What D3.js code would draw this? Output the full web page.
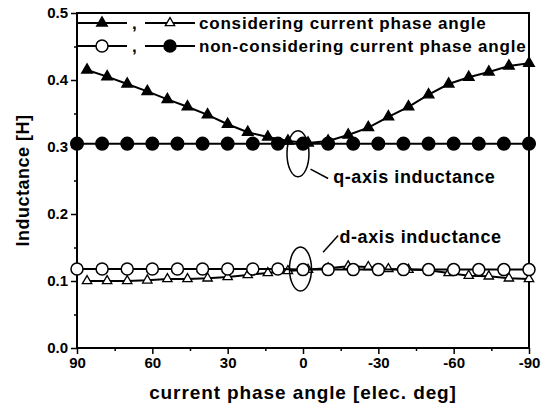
<!DOCTYPE html>
<html>
<head>
<meta charset="utf-8">
<script src="https://cdn.jsdelivr.net/npm/d3@7"></script>
<style>
  body { margin: 0; background: #fff; }
  text { font-family: "Liberation Sans", Arial, sans-serif; font-weight: bold; fill: #000; }
</style>
</head>
<body>
<div id="chart"></div>
<script>
// angles (elec. deg) for the 8 deg series (triangles) and 10 deg series (circles)
var triAngles = [86, 78, 70, 62, 54, 46, 38, 30, 22, 14, 6, -2, -10, -18, -26, -34, -42, -50, -58, -66, -74, -82, -90]
var circAngles = [90, 80, 70, 60, 50, 40, 30, 20, 10, 0, -10, -20, -30, -40, -50, -60, -70, -80, -90]

// considering current phase angle
var qConsider = [0.415, 0.405, 0.394, 0.383, 0.371, 0.360, 0.348, 0.334, 0.322, 0.315, 0.309, 0.306, 0.309,
                 0.318, 0.329, 0.345, 0.360, 0.378, 0.394, 0.404, 0.412, 0.421, 0.425]
var dConsider = [0.100, 0.100, 0.100, 0.101, 0.103, 0.103, 0.104, 0.106, 0.109, 0.112, 0.115, 0.117, 0.119,
                 0.122, 0.121, 0.118, 0.117, 0.116, 0.112, 0.108, 0.107, 0.104, 0.103]

// non-considering current phase angle
var qNonConsider = [0.305, 0.305, 0.305, 0.305, 0.305, 0.305, 0.305, 0.305, 0.305, 0.305,
                    0.305, 0.305, 0.305, 0.305, 0.305, 0.305, 0.305, 0.305, 0.305]
var dNonConsider = [0.118, 0.118, 0.118, 0.118, 0.118, 0.118, 0.118, 0.118, 0.118, 0.117,
                    0.117, 0.117, 0.117, 0.117, 0.117, 0.117, 0.117, 0.117, 0.117]

var xTicks = [90, 60, 30, 0, -30, -60, -90]
var xMinor = [75, 45, 15, -15, -45, -75]
var yTicks = [0, 0.1, 0.2, 0.3, 0.4, 0.5]
var yMinor = [0.05, 0.15, 0.25, 0.35, 0.45]

var width = 545
var height = 406
var margin = {top: 13, right: 16, bottom: 58, left: 77}
var innerW = width - margin.left - margin.right
var innerH = height - margin.top - margin.bottom

var x = d3.scaleLinear().domain([90, -90]).range([0, innerW])
var y = d3.scaleLinear().domain([0, 0.5]).range([innerH, 0])

var svg = d3.select("#chart")
  .append("svg")
  .attr("width", width)
  .attr("height", height)

var g = svg.append("g")
  .attr("transform", "translate(" + margin.left + "," + margin.top + ")")

// axes
var xAxis = g.append("g")
  .attr("transform", "translate(0," + innerH + ")")
  .call(d3.axisBottom(x).tickValues(xTicks).tickFormat(function(d) { return String(d) }).tickSize(6).tickPadding(3))
xAxis.selectAll("text").attr("font-size", 15)

g.append("g")
  .attr("transform", "translate(0," + innerH + ")")
  .call(d3.axisBottom(x).tickValues(xMinor).tickFormat("").tickSize(3))

var yAxis = g.append("g")
  .call(d3.axisLeft(y).tickValues(yTicks).tickFormat(d3.format(".1f")).tickSize(6).tickPadding(3))
yAxis.selectAll("text").attr("font-size", 15)

g.append("g")
  .call(d3.axisLeft(y).tickValues(yMinor).tickFormat("").tickSize(3))

g.selectAll(".domain").remove()
g.selectAll(".tick line").attr("stroke", "#000").attr("stroke-width", 1.5)

// frame
g.append("rect")
  .attr("width", innerW)
  .attr("height", innerH)
  .attr("fill", "none")
  .attr("stroke", "#000")
  .attr("stroke-width", 2)

// axis titles
svg.append("text")
  .attr("x", margin.left + innerW / 2)
  .attr("y", 399)
  .attr("text-anchor", "middle")
  .attr("font-size", 19)
  .attr("letter-spacing", 0.9)
  .text("current phase angle [elec. deg]")

svg.append("text")
  .attr("transform", "translate(29," + (margin.top + innerH / 2) + ") rotate(-90)")
  .attr("text-anchor", "middle")
  .attr("font-size", 18)
  .attr("letter-spacing", 0.5)
  .text("Inductance [H]")

var triangle = d3.symbol().type(d3.symbolTriangle).size(50)
var triangleSmall = d3.symbol().type(d3.symbolTriangle).size(38)

function series(angles, values, shape, filled) {
  var pts = angles.map(function(a, i) { return [a, values[i]] })
  var line = d3.line()
    .x(function(d) { return x(d[0]) })
    .y(function(d) { return y(d[1]) })

  g.append("path")
    .datum(pts)
    .attr("d", line)
    .attr("fill", "none")
    .attr("stroke", "#000")
    .attr("stroke-width", 2)

  var m = g.append("g").selectAll(".m")
    .data(pts)
    .enter()

  if (shape == "circle") {
    m.append("circle")
      .attr("cx", function(d) { return x(d[0]) })
      .attr("cy", function(d) { return y(d[1]) })
      .attr("r", filled ? 6.3 : 6)
      .attr("fill", filled ? "#000" : "#fff")
      .attr("stroke", "#000")
      .attr("stroke-width", 1.5)
  } else {
    m.append("path")
      .attr("d", filled ? triangle : triangleSmall)
      .attr("transform", function(d) { return "translate(" + x(d[0]) + "," + y(d[1]) + ")" })
      .attr("fill", filled ? "#000" : "#fff")
      .attr("stroke", "#000")
      .attr("stroke-width", 1.3)
  }
}

series(triAngles, dConsider, "triangle", false)
series(circAngles, dNonConsider, "circle", false)
series(triAngles, qConsider, "triangle", true)
series(circAngles, qNonConsider, "circle", true)

// annotations
g.append("ellipse")
  .attr("cx", x(2)).attr("cy", y(0.29)).attr("rx", 11).attr("ry", 23)
  .attr("fill", "none").attr("stroke", "#000").attr("stroke-width", 1.5)
g.append("line")
  .attr("x1", x(-3)).attr("y1", y(0.267)).attr("x2", x(-10)).attr("y2", y(0.253))
  .attr("stroke", "#000").attr("stroke-width", 1.5)
g.append("text")
  .attr("x", x(-12)).attr("y", y(0.255)).attr("dy", "0.35em")
  .attr("font-size", 18)
  .attr("letter-spacing", 0.6)
  .text("q-axis inductance")

g.append("ellipse")
  .attr("cx", x(1)).attr("cy", y(0.118)).attr("rx", 11).attr("ry", 22)
  .attr("fill", "none").attr("stroke", "#000").attr("stroke-width", 1.5)
g.append("line")
  .attr("x1", x(-8)).attr("y1", y(0.143)).attr("x2", x(-14)).attr("y2", y(0.168))
  .attr("stroke", "#000").attr("stroke-width", 1.5)
g.append("text")
  .attr("x", x(-14.5)).attr("y", y(0.166)).attr("dy", "0.35em")
  .attr("font-size", 18)
  .attr("letter-spacing", 0.6)
  .text("d-axis inductance")

// legend
var legendRows = [
  {y: 10, a: {shape: "triangle", filled: true}, b: {shape: "triangle", filled: false}, label: "considering current phase angle"},
  {y: 33, a: {shape: "circle", filled: false}, b: {shape: "circle", filled: true}, label: "non-considering current phase angle"}
]

legendRows.forEach(function(r) {
  [[0, r.a], [68, r.b]].forEach(function(p) {
    var x0 = p[0]
    g.append("line")
      .attr("x1", x0).attr("x2", x0 + 50).attr("y1", r.y).attr("y2", r.y)
      .attr("stroke", "#000").attr("stroke-width", 2)
    if (p[1].shape == "circle") {
      g.append("circle")
        .attr("cx", x0 + 25).attr("cy", r.y).attr("r", 6)
        .attr("fill", p[1].filled ? "#000" : "#fff")
        .attr("stroke", "#000").attr("stroke-width", 1.5)
    } else {
      g.append("path")
        .attr("d", p[1].filled ? triangle : triangleSmall)
        .attr("transform", "translate(" + (x0 + 25) + "," + r.y + ")")
        .attr("fill", p[1].filled ? "#000" : "#fff")
        .attr("stroke", "#000").attr("stroke-width", 1.3)
    }
  })
  g.append("text")
    .attr("x", 55).attr("y", r.y).attr("dy", "0.35em")
    .attr("font-size", 17)
    .text(",")
  g.append("text")
    .attr("x", 122).attr("y", r.y).attr("dy", "0.35em")
    .attr("font-size", 17)
    .attr("letter-spacing", 0.8)
    .text(r.label)
})
</script>
</body>
</html>
